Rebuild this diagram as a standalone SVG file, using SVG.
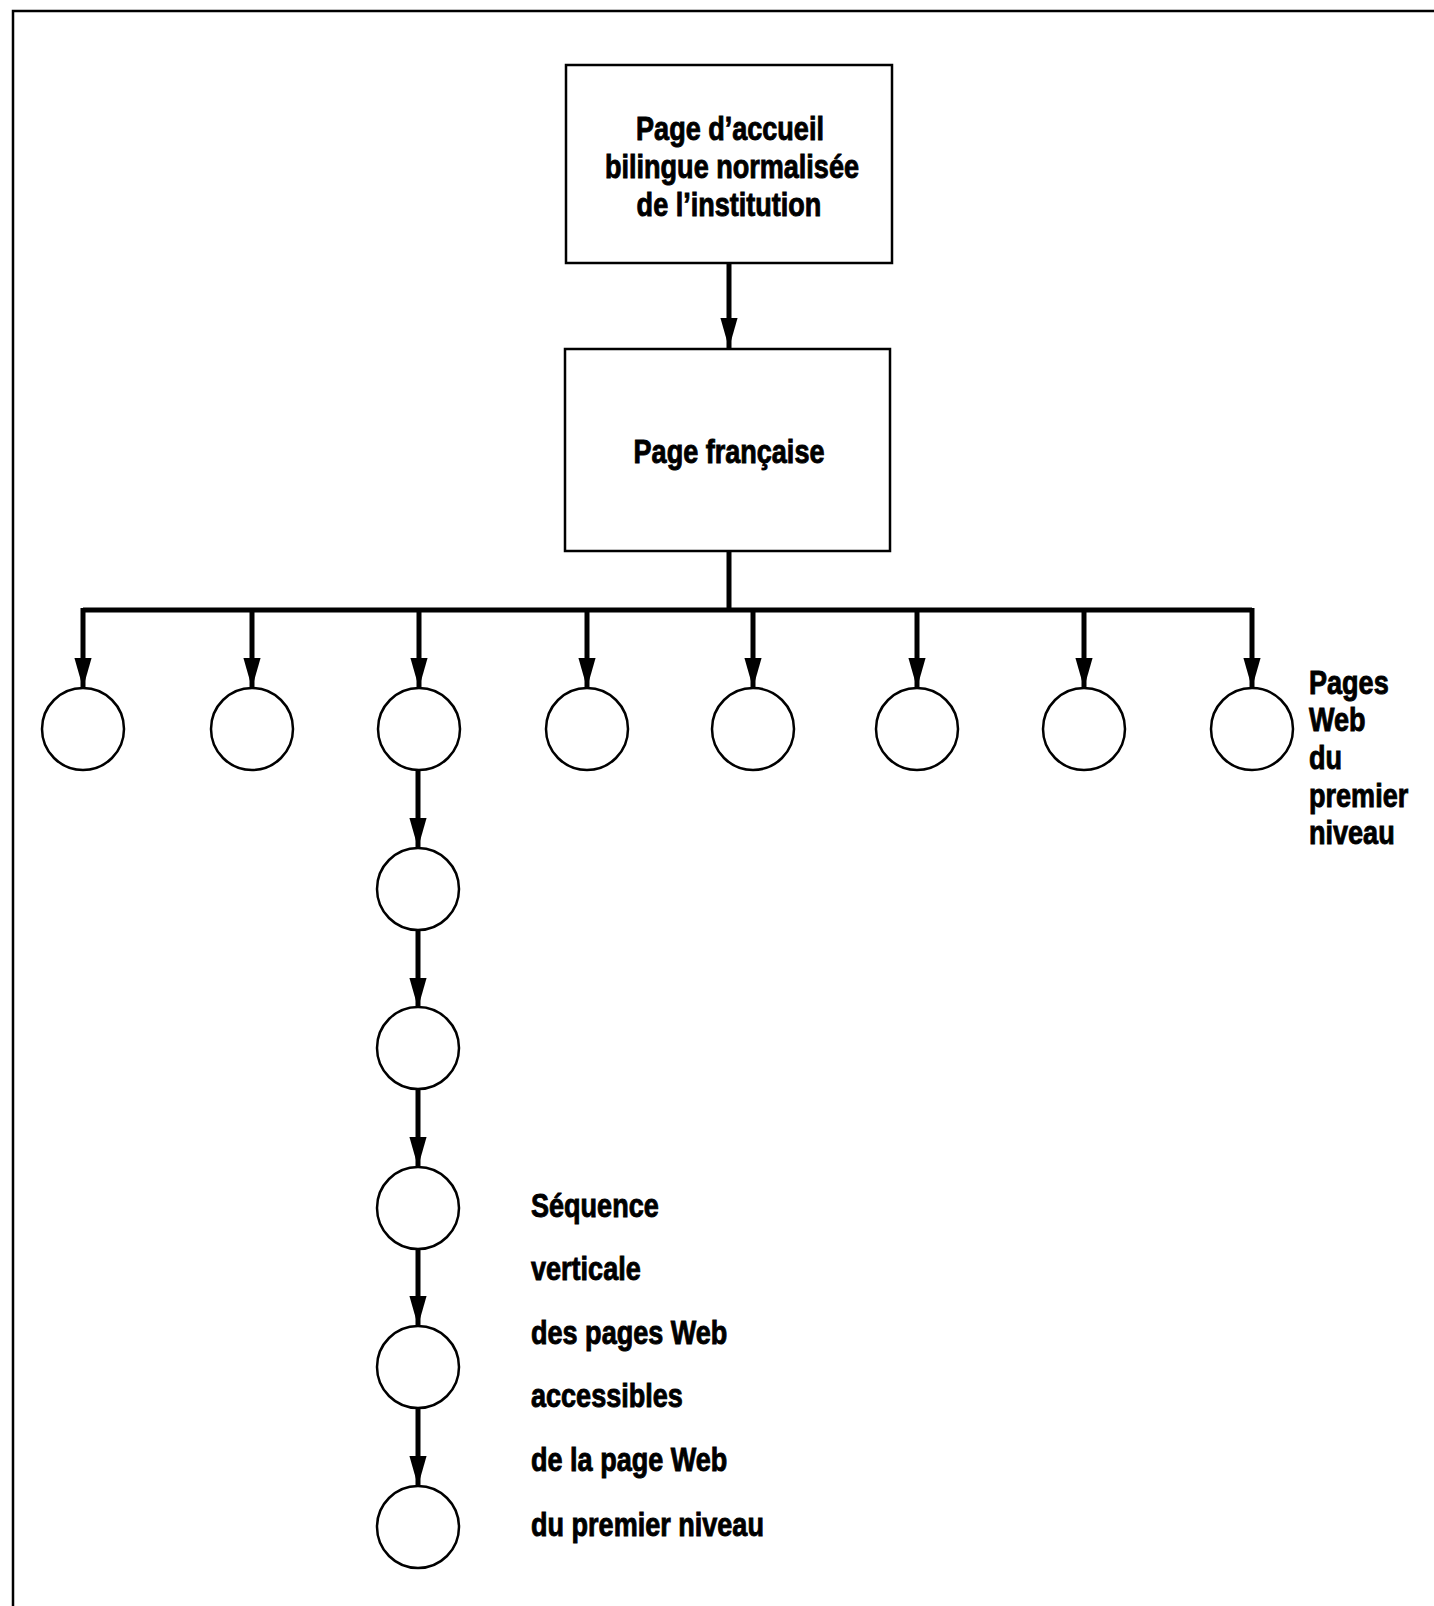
<svg xmlns="http://www.w3.org/2000/svg" width="1434" height="1606" viewBox="0 0 1434 1606">
<defs>
<marker id="ah" markerUnits="userSpaceOnUse" markerWidth="30" markerHeight="18" viewBox="0 0 28 16" refX="28" refY="8" orient="auto">
<path d="M0,0 L28,8 L0,16 Z" fill="#000"/>
</marker>
<style>
text{font-family:"Liberation Sans",Arial,sans-serif;font-weight:bold;font-size:33px;fill:#000;stroke:#000;stroke-width:0.9}
.c{text-anchor:middle}
.box{fill:#fff;stroke:#000;stroke-width:2.5}
.node{fill:#fff;stroke:#000;stroke-width:2.5}
.ln{fill:none;stroke:#000;stroke-width:5}
.frame{fill:none;stroke:#000;stroke-width:2.5}
</style>
</defs>
<rect width="1434" height="1606" fill="#fff"/>
<path class="frame" d="M13,1606 L13,11 L1434,11"/>
<g id="connectors">
<line class="ln" x1="729" y1="263" x2="729" y2="348" marker-end="url(#ah)"/>
<polyline class="ln" points="729,551 729,610"/>
<polyline class="ln" points="83,610 1252,610"/>
<line class="ln" x1="83" y1="608" x2="83" y2="688" marker-end="url(#ah)"/>
<line class="ln" x1="252" y1="610" x2="252" y2="688" marker-end="url(#ah)"/>
<line class="ln" x1="419" y1="610" x2="419" y2="688" marker-end="url(#ah)"/>
<line class="ln" x1="587" y1="610" x2="587" y2="688" marker-end="url(#ah)"/>
<line class="ln" x1="753" y1="610" x2="753" y2="688" marker-end="url(#ah)"/>
<line class="ln" x1="917" y1="610" x2="917" y2="688" marker-end="url(#ah)"/>
<line class="ln" x1="1084" y1="610" x2="1084" y2="688" marker-end="url(#ah)"/>
<line class="ln" x1="1252" y1="608" x2="1252" y2="688" marker-end="url(#ah)"/>
<line class="ln" x1="418" y1="770" x2="418" y2="848" marker-end="url(#ah)"/>
<line class="ln" x1="418" y1="930" x2="418" y2="1008" marker-end="url(#ah)"/>
<line class="ln" x1="418" y1="1089" x2="418" y2="1167" marker-end="url(#ah)"/>
<line class="ln" x1="418" y1="1249" x2="418" y2="1326" marker-end="url(#ah)"/>
<line class="ln" x1="418" y1="1408" x2="418" y2="1486" marker-end="url(#ah)"/>
</g>
<g id="home">
<rect class="box" x="566" y="65" width="326" height="198"/>
<text class="c" transform="translate(730,140) scale(0.82,1)">Page d’accueil</text>
<text class="c" transform="translate(732,178) scale(0.82,1)">bilingue normalisée</text>
<text class="c" transform="translate(729,216) scale(0.82,1)">de l’institution</text>
</g>
<g id="french">
<rect class="box" x="565" y="349" width="325" height="202"/>
<text class="c" transform="translate(729,463) scale(0.82,1)">Page française</text>
</g>
<g id="l1-1"><circle class="node" cx="83" cy="729" r="41"/></g>
<g id="l1-2"><circle class="node" cx="252" cy="729" r="41"/></g>
<g id="l1-3"><circle class="node" cx="419" cy="729" r="41"/></g>
<g id="l1-4"><circle class="node" cx="587" cy="729" r="41"/></g>
<g id="l1-5"><circle class="node" cx="753" cy="729" r="41"/></g>
<g id="l1-6"><circle class="node" cx="917" cy="729" r="41"/></g>
<g id="l1-7"><circle class="node" cx="1084" cy="729" r="41"/></g>
<g id="l1-8"><circle class="node" cx="1252" cy="729" r="41"/></g>
<g id="v-1"><circle class="node" cx="418" cy="889" r="41"/></g>
<g id="v-2"><circle class="node" cx="418" cy="1048" r="41"/></g>
<g id="v-3"><circle class="node" cx="418" cy="1208" r="41"/></g>
<g id="v-4"><circle class="node" cx="418" cy="1367" r="41"/></g>
<g id="v-5"><circle class="node" cx="418" cy="1527" r="41"/></g>
<g id="label-level1">
<text transform="translate(1309,694) scale(0.82,1)">Pages</text>
<text transform="translate(1309,731) scale(0.82,1)">Web</text>
<text transform="translate(1309,769) scale(0.82,1)">du</text>
<text transform="translate(1309,807) scale(0.82,1)">premier</text>
<text transform="translate(1309,844) scale(0.82,1)">niveau</text>
</g>
<g id="label-sequence">
<text transform="translate(531,1217) scale(0.82,1)">Séquence</text>
<text transform="translate(531,1280) scale(0.82,1)">verticale</text>
<text transform="translate(531,1344) scale(0.82,1)">des pages Web</text>
<text transform="translate(531,1407) scale(0.82,1)">accessibles</text>
<text transform="translate(531,1471) scale(0.82,1)">de la page Web</text>
<text transform="translate(531,1536) scale(0.82,1)">du premier niveau</text>
</g>
</svg>
